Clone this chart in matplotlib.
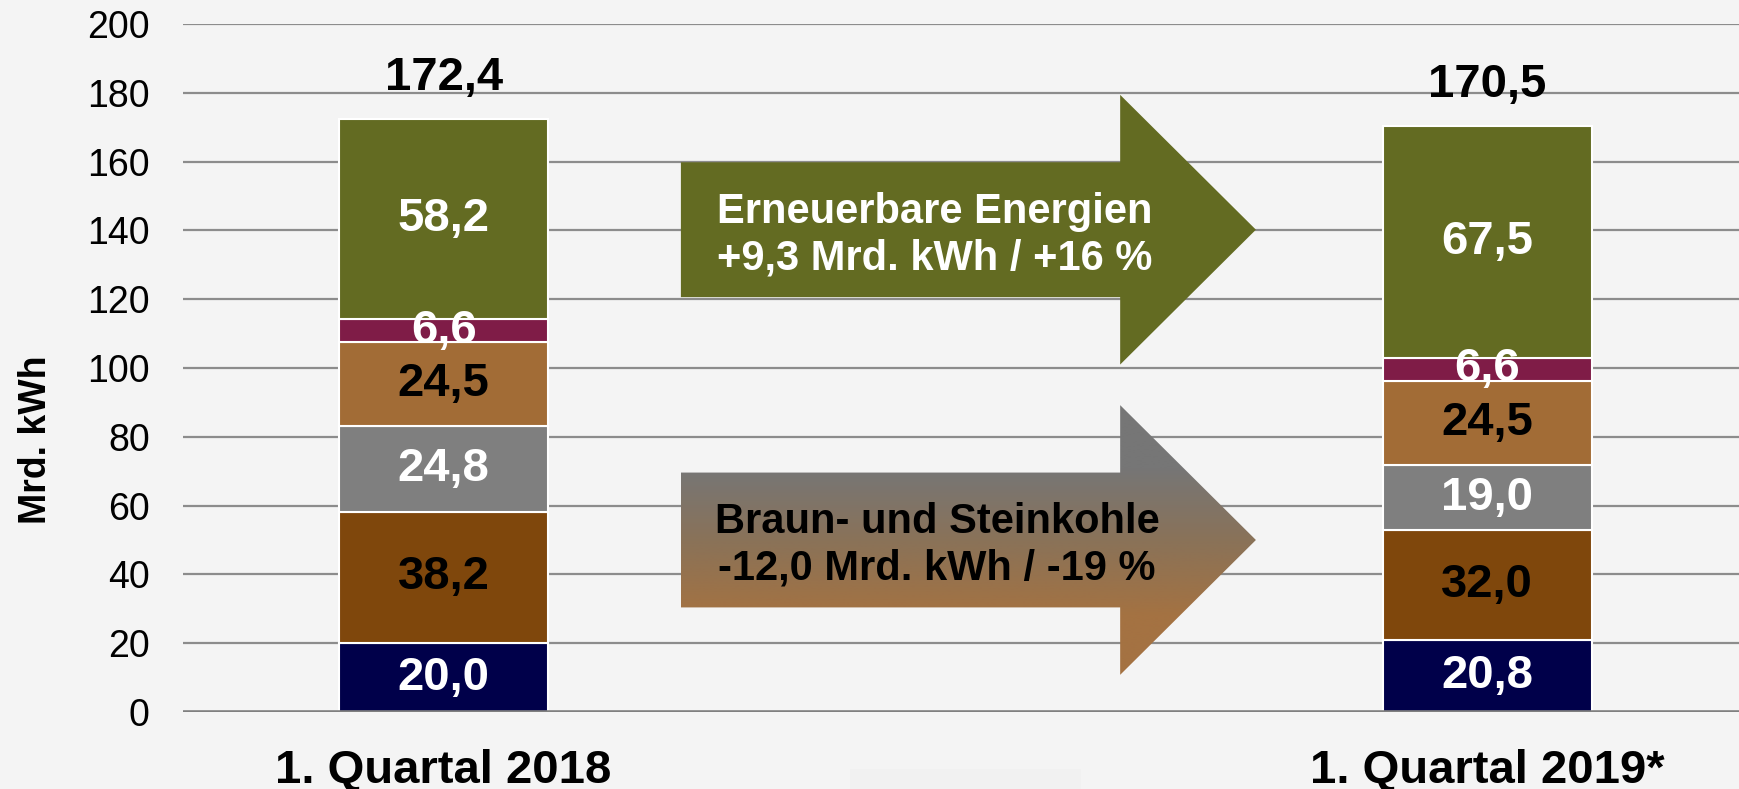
import numpy as np
import matplotlib
matplotlib.use("Agg")
import matplotlib.pyplot as plt
from matplotlib.patches import Polygon, Rectangle
from matplotlib.colors import LinearSegmentedColormap

plt.rcParams['font.family'] = ['Liberation Sans', 'DejaVu Sans']

# data
quarters = ["1. Quartal 2018", "1. Quartal 2019*"]
kernenergie = [20.0, 20.8]
braunkohle = [38.2, 32.0]
steinkohle = [24.8, 19.0]
erdgas = [24.5, 24.5]
sonstige = [6.6, 6.6]
erneuerbare = [58.2, 67.5]
totals = ["172,4", "170,5"]
totals_val = [172.4, 170.5]

arrow_texts = ["Erneuerbare Energien\n+9,3 Mrd. kWh / +16 %",
               "Braun- und Steinkohle\n-12,0 Mrd. kWh / -19 %"]

series = [kernenergie, braunkohle, steinkohle, erdgas, sonstige, erneuerbare]
colors = ["#00004A", "#7F470C", "#7F7F7F", "#A26C36", "#7F1C47", "#636B22"]
label_colors = ["white", "black", "white", "black", "white", "white"]

bg = "#F4F4F4"
fig = plt.figure(figsize=(17.39, 7.89), dpi=100, facecolor=bg)
ax = fig.add_axes([183 / 1739, 0.0976, 1 - 183 / 1739, 0.8720], facecolor=bg)

x = np.arange(len(quarters))
width = 0.2003

ax.set_xlim(-0.2498, 1.2415)
ax.set_ylim(0, 200)

for yv in range(20, 201, 20):
    ax.axhline(yv, color="#8C8C8C", lw=1.6, zorder=1)
ax.axhline(0, color="#808080", lw=2.6, zorder=4)

bottom = np.zeros(len(quarters))
for vals, col, lcol in zip(series, colors, label_colors):
    vals = np.array(vals)
    ax.bar(x, vals, width, bottom=bottom, color=col, edgecolor="white",
           linewidth=1.5, zorder=2)
    for xi, b, v in zip(x, bottom, vals):
        ax.text(xi, b + v / 2, f"{v:.1f}".replace(".", ","), ha="center",
                va="center", color=lcol, fontsize=34, fontweight="bold", zorder=5)
    bottom += vals

for xi, t, tv in zip(x, totals, totals_val):
    ax.text(xi, tv + 11.8, t, ha="center", va="center", fontsize=34,
            fontweight="bold", zorder=5)


def arrow_poly(cy):
    x0, x1, x2 = 0.2274, 0.6484, 0.7785
    h, hh = 19.6, 39.2
    return np.array([[x0, cy - h], [x1, cy - h], [x1, cy - hh], [x2, cy],
                     [x1, cy + hh], [x1, cy + h], [x0, cy + h]])


# green arrow
p1 = Polygon(arrow_poly(140.2), closed=True, facecolor="#636B22",
             edgecolor="none", zorder=3)
ax.add_patch(p1)
ax.text(0.471, 138.6, arrow_texts[0], ha="center", va="center", color="white",
        fontsize=30, fontweight="bold", linespacing=1.2, zorder=5)

# gradient arrow
p2 = Polygon(arrow_poly(50.0), closed=True, facecolor="none",
             edgecolor="none", zorder=3)
ax.add_patch(p2)
cmap = LinearSegmentedColormap.from_list("coal", ["#A47242", "#8A7258", "#767676"])
grad = np.linspace(0, 1, 256).reshape(-1, 1)
grad = np.clip((grad - 0.22) / 0.55, 0, 1)
im = ax.imshow(grad, extent=(0.2274, 0.7785, 10.8, 89.2), origin="lower",
               cmap=cmap, aspect="auto", zorder=3, interpolation="bilinear")
im.set_clip_path(p2)
ax.text(0.473, 48.4, arrow_texts[1], ha="center", va="center", color="black",
        fontsize=30, fontweight="bold", linespacing=1.2, zorder=5)

# faint box under the axis
fig.patches.append(Rectangle((850 / 1739, 0), 231 / 1739, 20 / 789,
                             transform=fig.transFigure, facecolor="#F1F1F1",
                             edgecolor="none", zorder=0))

ax.set_xticks(x)
ax.set_xticklabels(quarters, fontsize=34, fontweight="bold")
ax.set_yticks(range(0, 201, 20))
ax.tick_params(axis="y", length=0, pad=24, labelsize=27)
ax.tick_params(axis="x", length=0, pad=27)
for s in ax.spines.values():
    s.set_visible(False)

fig.text(36 / 1739, 1 - 439.5 / 789, "Mrd. kWh", rotation=90, ha="center",
         va="center", fontsize=27, fontweight="bold")

fig.savefig("out.png", dpi=100, facecolor=bg)
